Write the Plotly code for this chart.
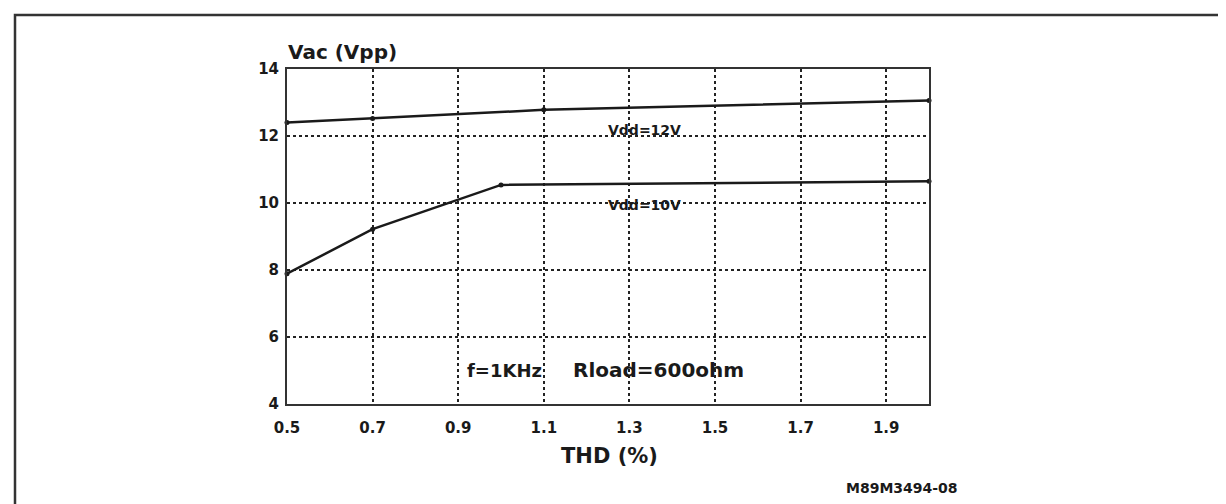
import plotly.graph_objects as go

thd_12 = [0.5, 0.7, 1.1, 2.0]
vac_12 = [12.4, 12.52, 12.78, 13.06]
thd_10 = [0.5, 0.7, 1.0, 2.0]
vac_10 = [7.89, 9.22, 10.54, 10.65]
x_ticks = [0.5, 0.7, 0.9, 1.1, 1.3, 1.5, 1.7, 1.9]
x_tick_labels = ["0.5", "0.7", "0.9", "1.1", "1.3", "1.5", "1.7", "1.9"]
y_ticks = [4, 6, 8, 10, 12, 14]
y_tick_labels = ["4", "6", "8", "10", "12", "14"]

W, H = 1226, 504
L, R, T, B = 279, 921, 61, 396

def px(xp):
    return (xp - L) / (R - L)

def py(yp):
    return (B - yp) / (B - T)

FONT = "DejaVu Sans"
INK = "#1a1a1a"

fig = go.Figure()
for xs, ys in [(thd_12, vac_12), (thd_10, vac_10)]:
    fig.add_trace(go.Scatter(x=xs, y=ys, mode="lines+markers",
                             line=dict(color=INK, width=2.5),
                             marker=dict(color=INK, size=5),
                             showlegend=False, cliponaxis=False))

axis_common = dict(showgrid=True, gridcolor="#222", griddash="dot", gridwidth=1.5,
                   showline=True, linecolor="#333", linewidth=2, mirror=True,
                   ticks="", zeroline=False,
                   tickfont=dict(size=15, family=FONT, weight="bold", color=INK))

fig.update_layout(
    width=W, height=H,
    margin=dict(l=L, r=W - R, t=T, b=H - B),
    paper_bgcolor="white", plot_bgcolor="white",
    font=dict(family=FONT, color=INK),
    xaxis=dict(range=[0.5, 2.0], tickvals=x_ticks, ticktext=x_tick_labels,
               ticklabelstandoff=9, **axis_common),
    yaxis=dict(range=[4, 14], tickvals=y_ticks, ticktext=y_tick_labels,
               ticklabelstandoff=3, **axis_common),
    shapes=[dict(type="rect", xref="paper", yref="paper",
                 x0=px(7), x1=px(1219), y0=py(515), y1=py(7),
                 line=dict(color="#333", width=2.5), fillcolor="rgba(0,0,0,0)")],
    annotations=[
        dict(text="Vac (Vpp)", xref="paper", yref="paper", x=px(278), y=py(44),
             xanchor="left", yanchor="middle", showarrow=False,
             font=dict(size=20, weight="bold")),
        dict(text="THD (%)", xref="paper", yref="paper", x=px(601), y=py(448),
             xanchor="center", yanchor="middle", showarrow=False,
             font=dict(size=21, weight="bold")),
        dict(text="Vdd=12V", xref="paper", yref="paper", x=px(636), y=py(122),
             xanchor="center", yanchor="middle", showarrow=False,
             font=dict(size=14, weight="bold")),
        dict(text="Vdd=10V", xref="paper", yref="paper", x=px(636), y=py(197),
             xanchor="center", yanchor="middle", showarrow=False,
             font=dict(size=14, weight="bold")),
        dict(text="f=1KHz", xref="paper", yref="paper", x=px(496), y=py(362),
             xanchor="center", yanchor="middle", showarrow=False,
             font=dict(size=18, weight="bold")),
        dict(text="Rload=600ohm", xref="paper", yref="paper", x=px(650), y=py(362),
             xanchor="center", yanchor="middle", showarrow=False,
             font=dict(size=20, weight="bold")),
        dict(text="M89M3494-08", xref="paper", yref="paper", x=px(894), y=py(480),
             xanchor="center", yanchor="middle", showarrow=False,
             font=dict(size=14, weight="bold")),
    ],
)

fig.write_html("out.html")
